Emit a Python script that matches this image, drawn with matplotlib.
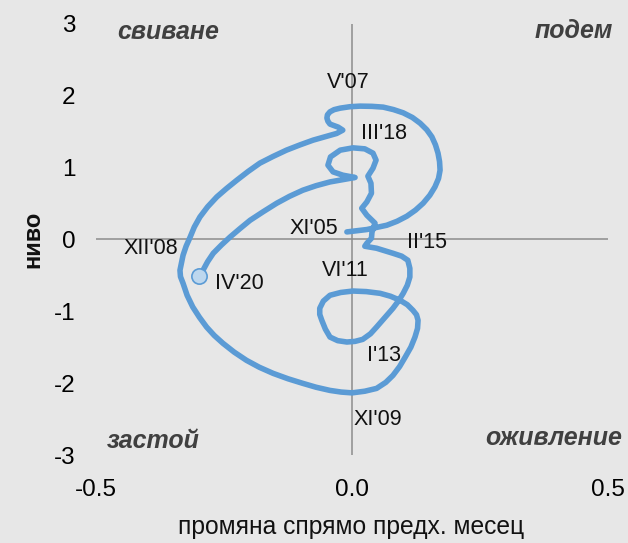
import matplotlib
matplotlib.use("Agg")
import matplotlib.pyplot as plt

plt.rcParams['font.family'] = ['Liberation Sans', 'DejaVu Sans']

# крива на цикъла: промяна спрямо предх. месец (x) и ниво (y), XI'05 -> IV'20
cycle_x = [
    # XI'05 -> V'07
    -0.010, 0.029, 0.068, 0.088, 0.107, 0.124, 0.139, 0.152, 0.162, 0.169,
    0.172, 0.171, 0.168, 0.163, 0.156, 0.146, 0.133, 0.118, 0.100, 0.081,
    0.061, 0.039, 0.016, -0.004, -0.023, -0.035, -0.043, -0.048, -0.049, -0.047,
    -0.043, -0.027, -0.018,
    # V'07 -> XII'08 -> XI'09
    -0.030, -0.076, -0.102, -0.128, -0.154, -0.180, -0.203, -0.225, -0.245, -0.264,
    -0.282, -0.297, -0.308, -0.316, -0.324, -0.330, -0.336, -0.335, -0.330, -0.322,
    -0.311, -0.298, -0.284, -0.269, -0.252, -0.230, -0.206, -0.181, -0.154, -0.125,
    -0.096, -0.070, -0.043, -0.021, 0.000,
    # XI'09 -> VI'11 -> I'13
    0.025, 0.048, 0.066, 0.080, 0.093, 0.104, 0.115, 0.123, 0.128, 0.129,
    0.126, 0.119, 0.108, 0.094, 0.075, 0.055, 0.028, 0.002, -0.022, -0.043,
    -0.056, -0.063, -0.063, -0.059, -0.052, -0.043, -0.028, -0.010, 0.006, 0.021,
    # I'13 -> II'15 -> III'18
    0.036, 0.048, 0.064, 0.080, 0.091, 0.100, 0.108, 0.113, 0.113, 0.109,
    0.097, 0.080, 0.048, 0.025, 0.029, 0.038, 0.039, 0.045, 0.029, 0.019,
    0.029, 0.038, 0.037, 0.031, 0.041, 0.047, 0.041, 0.025, 0.002, -0.023,
    -0.042, -0.047, -0.037, -0.018, 0.006,
    # III'18 -> IV'20
    -0.043, -0.070, -0.096, -0.122, -0.147, -0.173, -0.199, -0.219, -0.238, -0.255,
    -0.271, -0.282, -0.291, -0.298,
]
cycle_y = [
    0.102, 0.135, 0.195, 0.250, 0.320, 0.405, 0.501, 0.612, 0.728, 0.845,
    0.960, 1.080, 1.197, 1.313, 1.424, 1.523, 1.614, 1.693, 1.758, 1.803,
    1.837, 1.848, 1.851, 1.843, 1.823, 1.802, 1.772, 1.730, 1.684, 1.640,
    1.601, 1.559, 1.517,
    1.471, 1.378, 1.311, 1.239, 1.152, 1.058, 0.942, 0.821, 0.706, 0.589,
    0.451, 0.310, 0.170, 0.032, -0.097, -0.223, -0.431, -0.520, -0.612, -0.780,
    -0.942, -1.085, -1.221, -1.338, -1.447, -1.570, -1.684, -1.780, -1.865, -1.940,
    -2.004, -2.058, -2.102, -2.125, -2.136,
    -2.113, -2.074, -1.990, -1.893, -1.770, -1.638, -1.500, -1.360, -1.240, -1.127,
    -1.050, -0.988, -0.910, -0.849, -0.792, -0.752, -0.728, -0.720, -0.740, -0.779,
    -0.860, -0.960, -1.045, -1.127, -1.250, -1.360, -1.410, -1.429, -1.420, -1.392,
    -1.315, -1.221, -1.090, -0.960, -0.855, -0.752, -0.640, -0.525, -0.405, -0.292,
    -0.235, -0.195, -0.125, -0.097, -0.056, 0.014, 0.097, 0.223, 0.334, 0.431,
    0.519, 0.640, 0.779, 0.877, 0.988, 1.100, 1.197, 1.257, 1.271, 1.239,
    1.145, 1.030, 0.937, 0.891, 0.859,
    0.797, 0.745, 0.682, 0.597, 0.501, 0.385, 0.264, 0.147, 0.032, -0.080,
    -0.195, -0.312, -0.431, -0.515,
]

point_labels = ["XI'05", "V'07", "XII'08", "XI'09", "VI'11", "I'13", "II'15", "III'18", "IV'20"]
label_x = [-0.074, -0.008, -0.393, 0.051, -0.014, 0.062, 0.146, 0.062, -0.219]
label_y = [0.153, 2.185, -0.125, -2.505, -0.431, -1.614, -0.042, 1.475, -0.612]

quadrants = ["свиване", "подем", "застой", "оживление"]

bg = '#e7e7e7'
blue = '#5b9bd5'

fig = plt.figure(figsize=(6.28, 5.43), dpi=100, facecolor=bg)
ax = fig.add_axes([96/628, 1-455/543, 512/628, 431.5/543])
ax.set_facecolor(bg)

ax.axhline(0, color='#8c8c8c', lw=1.1, zorder=1)
ax.axvline(0, color='#8c8c8c', lw=1.1, zorder=1)

ax.plot(cycle_x, cycle_y, color=blue, lw=4, solid_capstyle='round',
        solid_joinstyle='round', zorder=2)
ax.plot(cycle_x[-1], cycle_y[-1], 'o', ms=11, mfc='#bdd7ee', mec=blue, mew=1.2, zorder=3)

for t, lx, ly in zip(point_labels, label_x, label_y):
    ax.text(lx, ly, t, fontsize=15.5, ha='center', va='center', color='#111111', zorder=4)

qstyle = dict(fontsize=18, fontweight='bold', fontstyle='italic', color='#404040', va='center')
fig.text(168/628, 1-32/543, quadrants[0], ha='center', **qstyle)
fig.text(613/628, 1-31/543, quadrants[1], ha='right', **qstyle)
fig.text(153/628, 1-441/543, quadrants[2], ha='center', **qstyle)
fig.text(622/628, 1-438/543, quadrants[3], ha='right', **qstyle)

ax.set_xlim(-0.5, 0.5)
ax.set_ylim(-3, 3)
ax.set_xticks([-0.5, 0.0, 0.5])
ax.set_xticklabels(['-0.5', '0.0', '0.5'])
ax.set_yticks([-3, -2, -1, 0, 1, 2, 3])
ax.set_yticklabels(['-3', '-2', '-1', '0', '1', '2', '3'])
ax.tick_params(axis='x', length=0, pad=17, labelsize=17.5)
ax.tick_params(axis='y', length=0, pad=15, labelsize=17.5)
for s in ax.spines.values():
    s.set_visible(False)

fig.text(351/628, 1-527/543, 'промяна спрямо предх. месец', fontsize=17.7,
         ha='center', va='center', color='#111111')
fig.text(33/628, 1-239/543, 'ниво', fontsize=17, fontweight='bold', rotation=90,
         ha='center', va='center', color='#111111')

fig.savefig('out.png', dpi=100, facecolor=bg)
